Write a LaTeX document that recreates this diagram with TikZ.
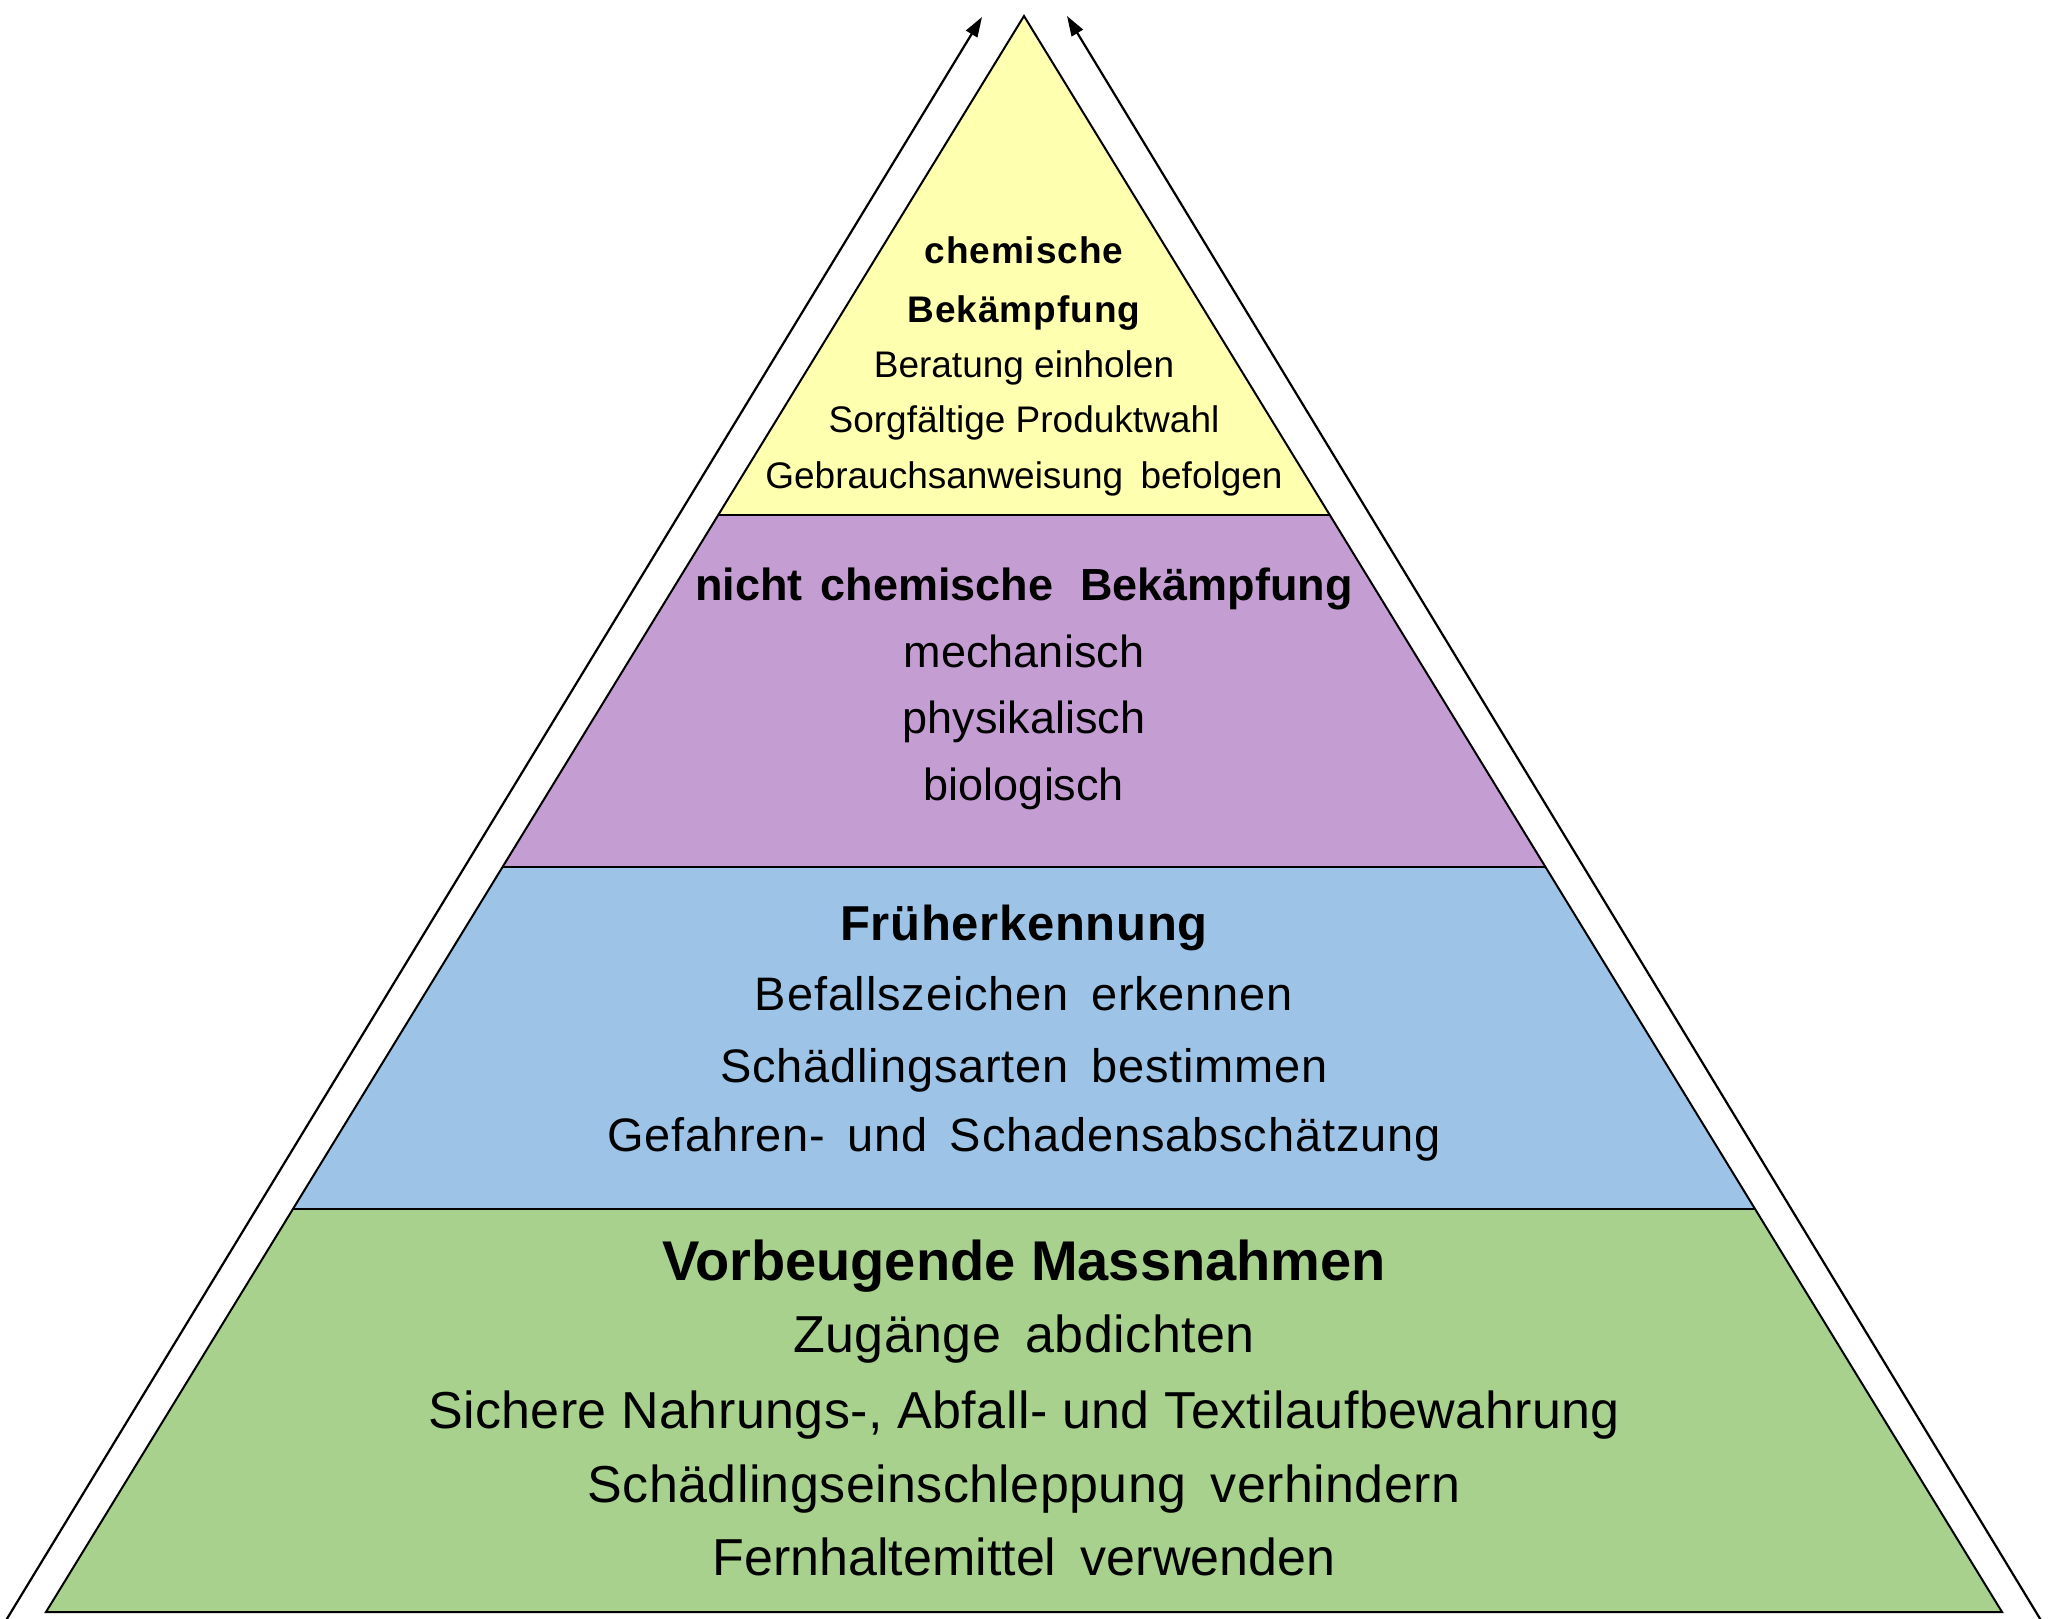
\documentclass[tikz,border=0pt]{standalone}
\usepackage{fontspec}
\setmainfont{Liberation Sans}
\usetikzlibrary{arrows.meta}
\definecolor{cyellow}{RGB}{255,255,176}
\definecolor{cpurple}{RGB}{196,158,211}
\definecolor{cblue}{RGB}{157,195,230}
\definecolor{cgreen}{RGB}{169,209,142}
\newcommand{\wsp}[1][0.47em]{\hspace{#1}}
\newcommand{\fsz}[1]{\fontsize{#1}{#1}\selectfont}
\newcommand{\lsp}[1]{\addfontfeatures{LetterSpace=#1}}
\begin{document}
\begin{tikzpicture}[x=1pt,y=-1pt,
  outline/.style={draw=black,line width=2pt,line join=miter},
  txt/.style={anchor=base,inner sep=0pt,text=black},
  arr/.style={draw=black,line width=2.2pt,-{Triangle[length=20pt,width=13pt]}}]
\useasboundingbox (0,0) rectangle (2048,1619);
\clip (0,0) rectangle (2048,1619);
\fill[white] (0,0) rectangle (2048,1619);
% geometry
\coordinate (apex) at (1024,16);
\coordinate (L1) at (718.4,515);  \coordinate (R1) at (1329.6,515);
\coordinate (L2) at (502.5,867);  \coordinate (R2) at (1545.5,867);
\coordinate (L3) at (293,1209);   \coordinate (R3) at (1755,1209);
\coordinate (L4) at (46,1612);    \coordinate (R4) at (2002,1612);
% layers
\fill[cyellow] (apex) -- (R1) -- (L1) -- cycle;
\fill[cpurple] (L1) -- (R1) -- (R2) -- (L2) -- cycle;
\fill[cblue]   (L2) -- (R2) -- (R3) -- (L3) -- cycle;
\fill[cgreen]  (L3) -- (R3) -- (R4) -- (L4) -- cycle;
\draw[outline] (apex) -- (R4) -- (L4) -- cycle;
\draw[outline] (L1) -- (R1);
\draw[outline] (L2) -- (R2);
\draw[outline] (L3) -- (R3);
% arrows
\coordinate (la) at (5,1622);   \coordinate (lt) at (982,17);
\coordinate (ra) at (2042,1622); \coordinate (rt) at (1067,16);
\draw[arr] (la) -- (lt);
\draw[arr] (ra) -- (rt);
% yellow texts
\node[txt,font=\fsz{37}\bfseries\lsp{2.5}] (y1) at (1024,263) {chemische};
\node[txt,font=\fsz{37}\bfseries\lsp{2.5}] (y2) at (1024,322) {Bekämpfung};
\node[txt,font=\fsz{37}] (y3) at (1024,377) {Beratung einholen};
\node[txt,font=\fsz{37}] (y4) at (1024,432) {Sorgfältige Produktwahl};
\node[txt,font=\fsz{37}] (y5) at (1024,488) {Gebrauchsanweisung\wsp befolgen};
% purple texts
\node[txt,font=\fsz{45}\bfseries] (p1) at (1024,600) {nicht\wsp[0.4em]chemische\wsp[0.6em]Bekämpfung};
\node[txt,font=\fsz{45}] (p2) at (1024,667) {mechanisch};
\node[txt,font=\fsz{45}] (p3) at (1024,733) {physikalisch};
\node[txt,font=\fsz{45}] (p4) at (1024,800) {biologisch};
% blue texts
\node[txt,font=\fsz{49}\bfseries\lsp{1.4}] (b1) at (1024,940) {Früherkennung};
\node[txt,font=\fsz{47}\lsp{1.8}] (b2) at (1024,1010) {Befallszeichen\wsp erkennen};
\node[txt,font=\fsz{47}\lsp{1.8}] (b3) at (1024,1082) {Schädlingsarten\wsp bestimmen};
\node[txt,font=\fsz{47}\lsp{1.8}] (b4) at (1024,1151) {Gefahren-\wsp und\wsp Schadensabschätzung};
% green texts
\node[txt,font=\fsz{56}\bfseries] (g1) at (1024,1280) {Vorbeugende Massnahmen};
\node[txt,font=\fsz{52}\lsp{0.8}] (g2) at (1024,1352) {Zugänge\wsp abdichten};
\node[txt,font=\fsz{52}\lsp{0.8}] (g3) at (1024,1428) {Sichere Nahrungs-, Abfall- und Textilaufbewahrung};
\node[txt,font=\fsz{52}\lsp{0.8}] (g4) at (1024,1502) {Schädlingseinschleppung\wsp verhindern};
\node[txt,font=\fsz{52}] (g5) at (1024,1575) {Fernhaltemittel\wsp verwenden};
\end{tikzpicture}
\end{document}
